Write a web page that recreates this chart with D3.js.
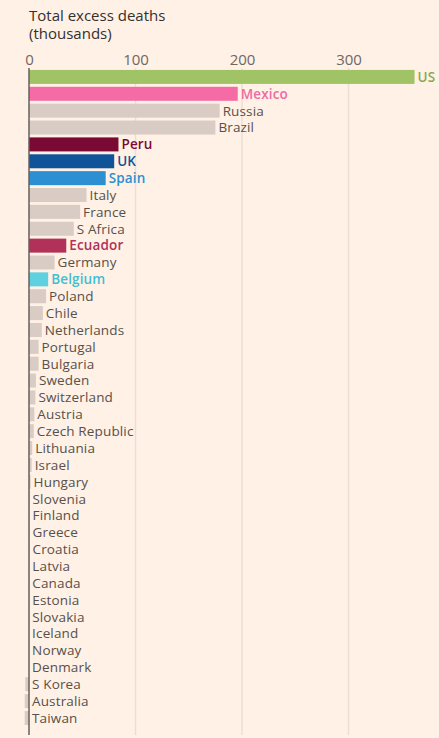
<!DOCTYPE html>
<html>
<head>
<meta charset="utf-8">
<script src="https://cdn.jsdelivr.net/npm/d3@7"></script>
<style>
  html, body { margin: 0; padding: 0; background: #fff1e5; }
  svg { display: block; }
  text { font-family: "Open Sans", "Noto Sans", sans-serif; }
</style>
</head>
<body>
<svg id="chart" width="439" height="738"></svg>
<script>
const countries = ["US","Mexico","Russia","Brazil","Peru","UK","Spain","Italy","France","S Africa","Ecuador","Germany","Belgium","Poland","Chile","Netherlands","Portugal","Bulgaria","Sweden","Switzerland","Austria","Czech Republic","Lithuania","Israel","Hungary","Slovenia","Finland","Greece","Croatia","Latvia","Canada","Estonia","Slovakia","Iceland","Norway","Denmark","S Korea","Australia","Taiwan"];
const excessDeaths = [362,196,179,175,84,80,72,54,48,42,35,24,18,16,13,12,9,9,6.5,6,5,4.5,3,2.5,1.5,0.5,0.5,0.5,0.5,0.3,0.3,0.3,0.2,0.1,0.1,0.1,-3.5,-4,-4];
const highlighted = {"US":"#a0c465","Mexico":"#f56ba6","Peru":"#7a0a33","UK":"#0f5499","Spain":"#2b8fd2","Ecuador":"#b0315a","Belgium":"#5fd0df"};
const labelColors = {"US":"#8aa84f","Mexico":"#f06aa4","Peru":"#7a0a33","UK":"#0f5499","Spain":"#2b8fd2","Ecuador":"#b0315a","Belgium":"#3fbfd3"};
const tickValues = [0,100,200,300];
const titleLines = ["Total excess deaths","(thousands)"];

const svg = d3.select("#chart");
const x = d3.scaleLinear().domain([0,300]).range([29,348.5]);
const y = d3.scaleBand().domain(countries).range([68.5, 726.4]).paddingInner(0.17).paddingOuter(0.085);
const data = countries.map((c,i)=>({c, v: excessDeaths[i]}));

// title
svg.append("g").selectAll("text").data(titleLines).join("text")
  .attr("x", 29).attr("y", (d,i)=>21 + i*18)
  .attr("font-size", 15).attr("fill", "#33302e").text(d=>d);

// gridlines
svg.append("g").selectAll("line").data(tickValues.filter(t=>t>0)).join("line")
  .attr("x1", d=>x(d)).attr("x2", d=>x(d))
  .attr("y1", 68).attr("y2", 735)
  .attr("stroke", "#ebdfd5").attr("stroke-width", 1.5);

// tick labels
const axis = d3.axisTop(x).tickValues(tickValues).tickSize(0).tickPadding(0);
const ag = svg.append("g").attr("transform","translate(0,65)").call(axis);
ag.select(".domain").remove();
ag.selectAll("text").attr("font-size", 15).attr("fill","#6e6762")
  .attr("font-family", "\"Open Sans\", sans-serif").attr("dy", 0);

// bars
svg.append("g").selectAll("rect").data(data).join("rect")
  .attr("x", d=>x(Math.min(0,d.v)))
  .attr("y", d=>y(d.c))
  .attr("width", d=>Math.abs(x(d.v)-x(0)))
  .attr("height", y.bandwidth())
  .attr("fill", d=>highlighted[d.c] || "#d8ccc4");

// axis line
svg.append("line").attr("x1", x(0)).attr("x2", x(0)).attr("y1", 68).attr("y2", 735)
  .attr("stroke", "#66605c").attr("stroke-width", 1.5);

// labels
svg.append("g").selectAll("text").data(data).join("text")
  .attr("x", d=>Math.max(x(d.v), x(0)) + 3)
  .attr("y", d=>y(d.c) + y.bandwidth()/2)
  .attr("dy", "0.36em")
  .attr("font-size", 13.5)
  .attr("letter-spacing", 0.15)
  .attr("font-weight", d=>highlighted[d.c] ? 600 : 400)
  .attr("fill", d=>labelColors[d.c] || "#57504b")
  .text(d=>d.c);
</script>
</body>
</html>
